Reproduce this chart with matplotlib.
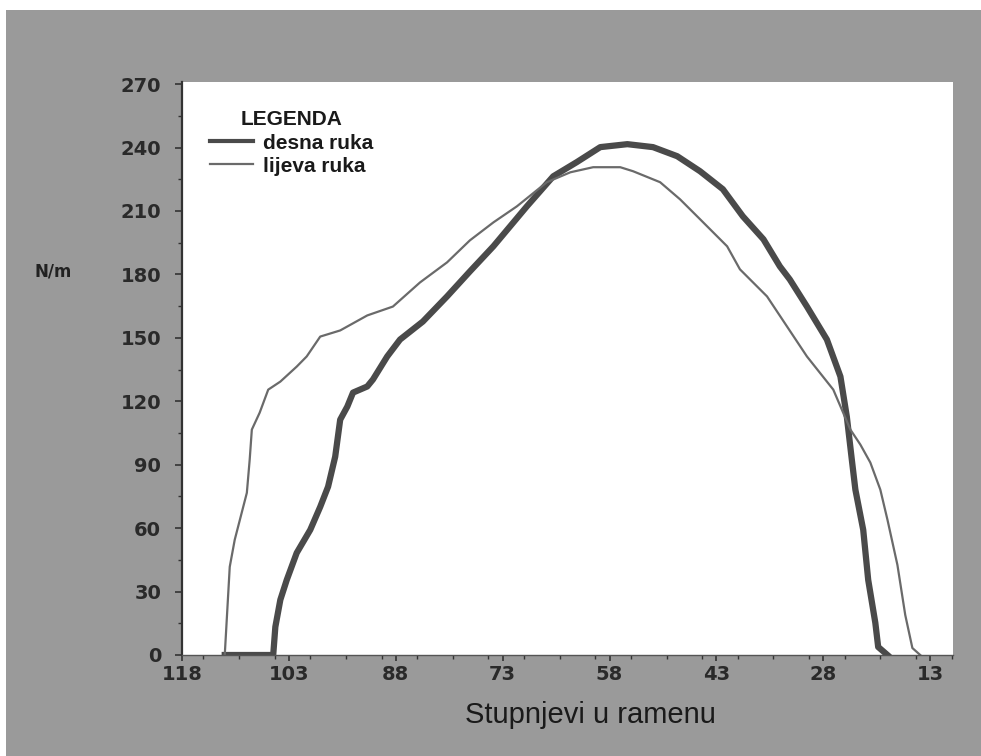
import matplotlib.pyplot as plt
from matplotlib.patches import Rectangle
from matplotlib.ticker import MultipleLocator

# degrees in shoulder (x) and torque N/m (y)
lijeva_x = [112.0, 111.3, 110.6, 108.9, 108.5, 108.2, 107.1, 105.9, 104.2, 101.9,
            100.5, 98.6, 95.8, 92.0, 88.4, 84.6, 80.8, 77.6, 74.3, 71.0,
            66.8, 63.5, 60.3, 56.5, 54.7, 50.9, 48.1, 45.3, 41.5, 39.7,
            35.9, 33.1, 30.3, 26.6, 24.2, 22.8, 21.4, 20.0, 19.0, 17.6,
            16.5, 15.5, 14.4]
lijeva_y = [0, 41.7, 54.5, 76.7, 92.4, 106.6, 114.6, 125.5, 129.3, 136.4,
            141.2, 150.6, 153.5, 160.6, 164.8, 176.2, 185.7, 196.1, 204.6, 212.2,
            223.6, 228.3, 230.7, 230.7, 228.8, 223.6, 215.5, 206.1, 193.3, 182.4,
            169.6, 155.4, 141.2, 125.5, 106.6, 99.5, 91.0, 78.2, 64.0, 42.6,
            18.9, 3.3, 0]

desna_x = [112.0, 105.2, 104.9, 104.2, 103.3, 101.9, 100.0, 98.6, 97.5, 96.5,
           95.8, 94.8, 94.0, 92.0, 91.2, 89.2, 87.4, 84.2, 80.8, 77.6,
           74.3, 69.6, 65.9, 62.6, 59.3, 55.5, 51.9, 48.5, 45.3, 42.1,
           39.3, 36.4, 34.1, 32.7, 30.3, 27.5, 25.6, 24.7, 24.0, 23.5,
           22.4, 21.7, 20.7, 20.3, 19.0]
desna_y = [0, 0, 13.3, 26.1, 35.5, 48.3, 59.2, 70.1, 79.6, 93.8,
           111.3, 117.5, 124.1, 127.0, 130.3, 141.2, 149.2, 157.7, 169.6, 181.4,
           193.3, 212.2, 226.4, 233.1, 240.2, 241.6, 240.2, 235.9, 228.8, 220.3,
           207.5, 196.6, 183.8, 177.6, 164.8, 149.2, 131.7, 112.7, 92.4, 78.2,
           59.2, 35.5, 15.2, 3.8, 0]

x_ticks = [118, 103, 88, 73, 58, 43, 28, 13]
y_ticks = [0, 30, 60, 90, 120, 150, 180, 210, 240, 270]

W, H = 981, 756
fig = plt.figure(figsize=(W / 100, H / 100), dpi=100, facecolor='white')
# grey card behind the chart (scan has a thin white margin top and left)
fig.patches.append(Rectangle((6 / W, 0), 1, 1 - 10 / H, transform=fig.transFigure,
                             facecolor='#9a9a9a', edgecolor='none', zorder=-5))

ax = fig.add_axes([182 / W, 1 - 655 / H, (953 - 182) / W, (655 - 82) / H])
ax.set_zorder(2)
ax.set_facecolor('white')

ax.plot(desna_x, desna_y, color='#4a4a4a', lw=4.5, solid_joinstyle='round', label='desna ruka')
ax.plot(lijeva_x, lijeva_y, color='#6a6a6a', lw=1.6, label='lijeva ruka')

ax.set_xlim(118, 9.8)
ax.set_ylim(0, 271)
ax.set_xticks(x_ticks)
ax.set_yticks(y_ticks)
ax.xaxis.set_minor_locator(MultipleLocator(5))
ax.yaxis.set_minor_locator(MultipleLocator(15))

for s in ['top', 'right']:
    ax.spines[s].set_visible(False)
ax.spines['left'].set_color('#333333')
ax.spines['left'].set_linewidth(1.6)
ax.spines['bottom'].set_color('#555555')
ax.spines['bottom'].set_linewidth(1.0)

ax.tick_params(axis='y', which='major', length=5, width=1.2, color='#333333', pad=10,
               labelsize=14, labelcolor='#2a2a2a')
ax.tick_params(axis='y', which='minor', length=3, width=1, color='#333333')
ax.tick_params(axis='x', which='major', length=4, width=1.2, color='#333333', pad=3,
               labelsize=14, labelcolor='#2a2a2a')
ax.tick_params(axis='x', which='minor', length=3, width=1, color='#333333')
for lab in ax.get_xticklabels() + ax.get_yticklabels():
    lab.set_fontweight('bold')

fig.text(35 / W, 1 - 272 / H, 'N/m', fontsize=12, fontweight='bold', color='#222222',
         va='center', ha='left')
fig.text(590 / W, 1 - 715 / H, 'Stupnjevi u ramenu', fontsize=21, family='Liberation Sans',
         color='#1a1a1a', ha='center', va='center')

leg = ax.legend(loc='upper left', bbox_to_anchor=(0.025, 0.965), frameon=False,
                title='LEGENDA',
                prop={'family': 'Liberation Sans', 'size': 15, 'weight': 'bold'},
                handlelength=2.1, handletextpad=0.45, labelspacing=0.2, borderaxespad=0)
leg.get_title().set_fontfamily('Liberation Sans')
leg.get_title().set_fontsize(15)
leg.get_title().set_fontweight('bold')
leg.get_title().set_color('#1a1a1a')
for t in leg.get_texts():
    t.set_color('#1a1a1a')
leg.legend_handles[0].set_linewidth(3)
leg.legend_handles[1].set_linewidth(1.6)

fig.savefig('out.png', dpi=100, facecolor=fig.get_facecolor())
